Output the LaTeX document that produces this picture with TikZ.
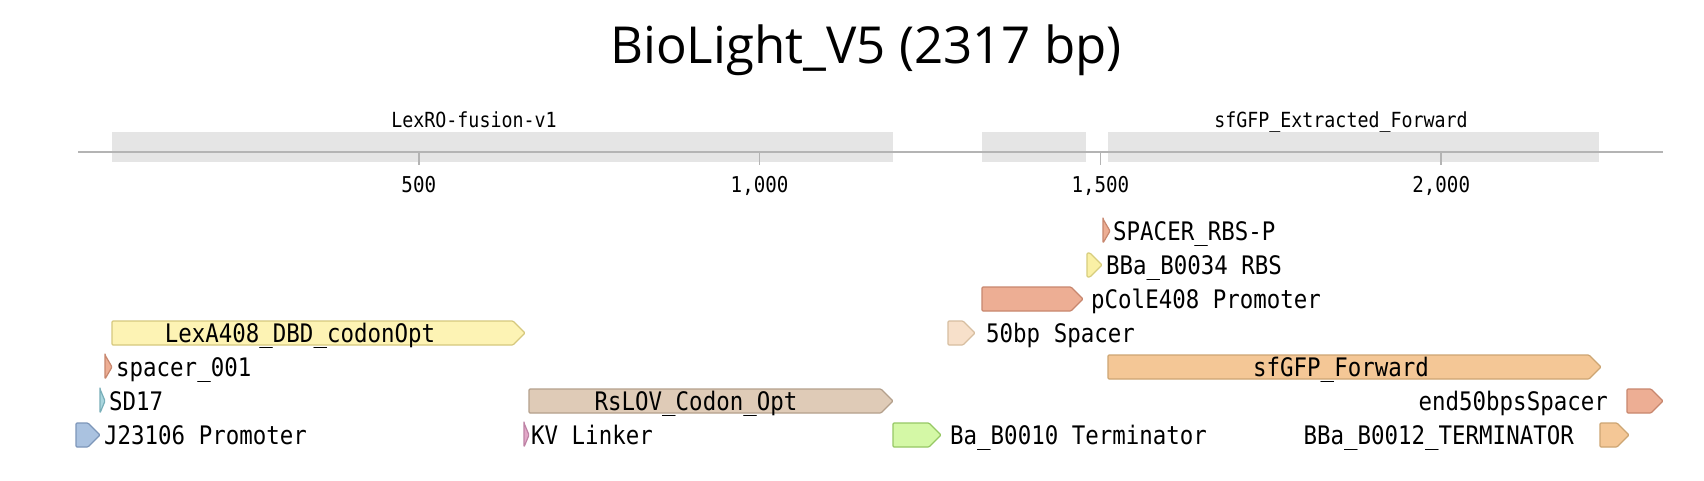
\documentclass[tikz,border=0pt]{standalone}
\usepackage{fontspec}
\setmonofont[FakeStretch=0.88]{DejaVu Sans Mono}
\newfontfamily\titlefont{Open Sans}
\usepackage{tikz}
\definecolor{trackgray}{RGB}{229,229,229}
\definecolor{axisgray}{RGB}{180,180,180}
\definecolor{lexyellow}{RGB}{253,243,180}
\definecolor{lexyellowd}{RGB}{214,200,125}
\definecolor{rbsyellow}{RGB}{250,240,165}
\definecolor{rbsyellowd}{RGB}{215,205,125}
\definecolor{promsalmon}{RGB}{237,174,148}
\definecolor{promsalmond}{RGB}{200,135,110}
\definecolor{linkertan}{RGB}{223,203,183}
\definecolor{linkertand}{RGB}{180,160,140}
\definecolor{gfporange}{RGB}{244,199,150}
\definecolor{gfporanged}{RGB}{205,165,115}
\definecolor{spacerpeach}{RGB}{247,224,202}
\definecolor{spacerpeachd}{RGB}{215,190,160}
\definecolor{termgreen}{RGB}{212,248,166}
\definecolor{termgreend}{RGB}{150,200,100}
\definecolor{j23blue}{RGB}{170,194,224}
\definecolor{j23blued}{RGB}{125,150,185}
\definecolor{kvpink}{RGB}{226,168,200}
\definecolor{kvpinkd}{RGB}{190,130,165}
\definecolor{sdteal}{RGB}{170,214,222}
\definecolor{sdteald}{RGB}{120,175,185}

% feature arrow: x start, x end, y centre, fill, border
\newcommand{\featarrow}[5]{%
  \pgfmathsetmacro{\headlen}{min(12,#2-#1)}
  \draw[featline, fill=#4, draw=#5] (#1,#3-12) -- (#2-\headlen,#3-12) -- (#2,#3)
    -- (#2-\headlen,#3+12) -- (#1,#3+12) -- cycle;
}

\begin{document}
\begin{tikzpicture}[
    x=1pt, y=-1pt,
    lbl/.style={font=\ttfamily\fontsize{25.5}{28}\selectfont, inner sep=0pt},
    ticklbl/.style={font=\ttfamily\fontsize{21.8}{24}\selectfont, inner sep=0pt},
    tracklbl/.style={font=\ttfamily\fontsize{20.8}{24}\selectfont, inner sep=0pt},
    featline/.style={line width=1.2pt, rounded corners=1pt, line join=round},
    axis/.style={draw=axisgray, line width=1.5pt}
]
\useasboundingbox (0,0) rectangle (1704,480);
\fill[white] (0,0) rectangle (1704,480);

% Title
\node[font=\titlefont\fontsize{51}{60}\selectfont, inner sep=0pt, anchor=base] (title) at (866,63) {BioLight\_V5 (2317 bp)};

% Tracks
\fill[trackgray] (112,131.5) rectangle (893,162);
\fill[trackgray] (982,131.5) rectangle (1086,162);
\fill[trackgray] (1108,131.5) rectangle (1599,162);
\node[tracklbl, anchor=base] (lexro) at (474,127) {LexRO-fusion-v1};
\node[tracklbl, anchor=base] (sfgfpext) at (1341,127) {sfGFP\_Extracted\_Forward};

% Axis
\coordinate (axstart) at (78,152);
\coordinate (axend) at (1663,152);
\draw[axis] (axstart) -- (axend);
\foreach \v/\t in {500/500, 1000/{1,000}, 1500/{1,500}, 2000/{2,000}} {
  \pgfmathsetmacro{\tx}{78+0.6816*\v}
  \coordinate (tick\v) at (\tx,152);
  \draw[axis] (tick\v) -- ++(0,13);
  \node[ticklbl, anchor=base] (ticklbl\v) at (\tx,192) {\t};
}

% Row 1-3
\featarrow{1103}{1110}{231}{promsalmon}{promsalmond}
\node[lbl, anchor=base west] (spacerrbs) at (1113,240.5) {SPACER\_RBS-P};
\featarrow{1087}{1102}{265}{rbsyellow}{rbsyellowd}
\node[lbl, anchor=base west] (b0034) at (1106,274.5) {BBa\_B0034 RBS};
\featarrow{982}{1083}{299}{promsalmon}{promsalmond}
\node[lbl, anchor=base west] (pcole) at (1091,308.5) {pColE408 Promoter};

% Row 4
\featarrow{112}{525}{333}{lexyellow}{lexyellowd}
\node[lbl, anchor=base] (lexa) at (300,342.5) {LexA408\_DBD\_codonOpt};
\featarrow{948}{975}{333}{spacerpeach}{spacerpeachd}
\node[lbl, anchor=base west] (spacer50) at (986,342.5) {50bp Spacer};

% Row 5
\featarrow{105}{112}{367}{promsalmon}{promsalmond}
\node[lbl, anchor=base west] (spacer001) at (116,376.5) {spacer\_001};
\featarrow{1108}{1601}{367}{gfporange}{gfporanged}
\node[lbl, anchor=base] (sfgfp) at (1341,376.5) {sfGFP\_Forward};

% Row 6
\featarrow{100}{105}{401}{sdteal}{sdteald}
\node[lbl, anchor=base west] (sd17) at (109,410.5) {SD17};
\featarrow{529}{893}{401}{linkertan}{linkertand}
\node[lbl, anchor=base] (rslov) at (696,410.5) {RsLOV\_Codon\_Opt};
\featarrow{1627}{1663}{401}{promsalmon}{promsalmond}
\node[lbl, anchor=base east] (end50) at (1608,410.5) {end50bpsSpacer};

% Row 7
\featarrow{76}{100}{435}{j23blue}{j23blued}
\node[lbl, anchor=base west] (j23106) at (104,444.5) {J23106 Promoter};
\featarrow{524}{529}{435}{kvpink}{kvpinkd}
\node[lbl, anchor=base west] (kvlinker) at (531,444.5) {KV Linker};
\featarrow{893}{941}{435}{termgreen}{termgreend}
\node[lbl, anchor=base west] (b0010) at (950,444.5) {Ba\_B0010 Terminator};
\featarrow{1600}{1629}{435}{gfporange}{gfporanged}
\node[lbl, anchor=base east] (b0012) at (1574,444.5) {BBa\_B0012\_TERMINATOR};

\end{tikzpicture}
\end{document}
